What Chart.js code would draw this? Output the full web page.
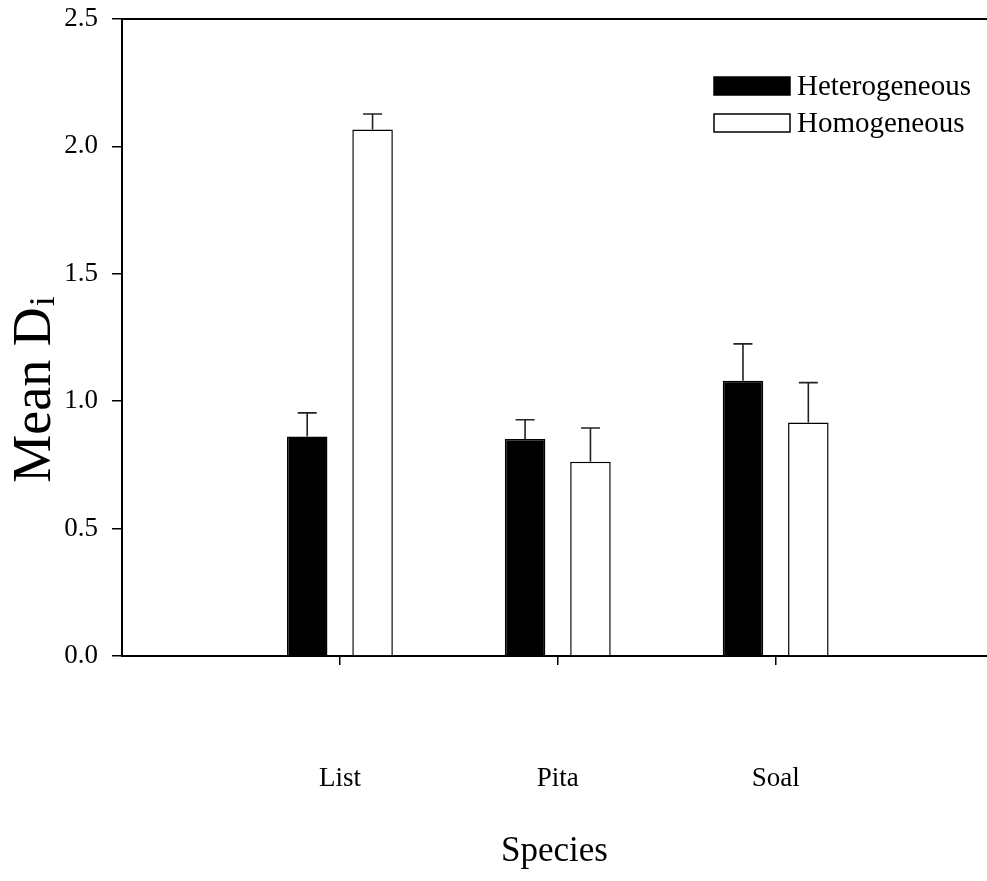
<!DOCTYPE html>
<html>
<head>
<meta charset="utf-8">
<script src="https://cdn.jsdelivr.net/npm/chart.js@4/dist/chart.umd.min.js"></script>
<style>
  html, body { margin: 0; padding: 0; background: #fff; }
  canvas { display: block; }
</style>
</head>
<body>
<canvas id="c" width="987" height="881"></canvas>
<script>
// Species and mean D_i with standard errors for the two habitat types
const species = ['List', 'Pita', 'Soal'];
const seriesNames = ['Heterogeneous', 'Homogeneous'];
const heterogeneous = [0.861, 0.852, 1.080];
const heterogeneousErr = [0.093, 0.075, 0.145];
const homogeneous = [2.066, 0.762, 0.916];
const homogeneousErr = [0.061, 0.133, 0.157];
const yTicks = [0, 0.5, 1.0, 1.5, 2.0, 2.5];

const serif = '"Liberation Serif", "Times New Roman", Times, serif';
const positions = species.map((s, i) => i + 1);

// Error bars: vertical whisker from the bar top to mean + SE, with a cap
const errorBars = {
  id: 'errorBars',
  afterDatasetsDraw(chart) {
    const ctx = chart.ctx;
    const y = chart.scales.y;
    chart.data.datasets.forEach((ds, di) => {
      const meta = chart.getDatasetMeta(di);
      meta.data.forEach((bar, i) => {
        const top = y.getPixelForValue(ds.data[i].y + ds.errors[i]);
        const cap = 9.5;
        ctx.save();
        ctx.strokeStyle = '#222';
        ctx.lineWidth = 1.6;
        ctx.beginPath();
        ctx.moveTo(bar.x, bar.y);
        ctx.lineTo(bar.x, top);
        ctx.moveTo(bar.x - cap, top);
        ctx.lineTo(bar.x + cap, top);
        ctx.stroke();
        ctx.restore();
      });
    });
  }
};

// Top frame line, legend and the y-axis title with its subscript
const decorations = {
  id: 'decorations',
  afterDraw(chart) {
    const ctx = chart.ctx;
    const a = chart.chartArea;
    ctx.save();
    ctx.strokeStyle = '#000';
    ctx.lineWidth = 2;
    ctx.beginPath();
    ctx.moveTo(a.left, a.top);
    ctx.lineTo(a.right, a.top);
    ctx.stroke();

    // legend
    ctx.font = '29px ' + serif;
    ctx.textBaseline = 'middle';
    chart.data.datasets.forEach((ds, i) => {
      const bx = 714, by = 77 + i * 37, bw = 76, bh = 18;
      ctx.fillStyle = ds.backgroundColor;
      ctx.fillRect(bx, by, bw, bh);
      ctx.strokeStyle = '#000';
      ctx.lineWidth = 1.5;
      ctx.strokeRect(bx, by, bw, bh);
      ctx.fillStyle = '#000';
      ctx.fillText(ds.label, 797, by + bh / 2 + 1);
    });

    // y-axis title "Mean D" with subscript "i"
    ctx.translate(50, 390);
    ctx.rotate(-Math.PI / 2);
    const main = 'Mean D';
    const big = 54, small = 36;
    ctx.textBaseline = 'alphabetic';
    ctx.font = big + 'px ' + serif;
    const wMain = ctx.measureText(main).width;
    ctx.font = small + 'px ' + serif;
    const wSub = ctx.measureText('i').width;
    const start = -(wMain + wSub) / 2;
    ctx.font = big + 'px ' + serif;
    ctx.fillText(main, start, 0);
    ctx.font = small + 'px ' + serif;
    ctx.fillText('i', start + wMain + 1, 4);
    ctx.restore();
  }
};

new Chart(document.getElementById('c'), {
  type: 'bar',
  data: {
    datasets: [
      {
        label: seriesNames[0],
        data: positions.map((x, i) => ({ x, y: heterogeneous[i] })),
        errors: heterogeneousErr,
        backgroundColor: '#000',
        borderColor: '#000',
        borderWidth: 1.5,
        categoryPercentage: 0.6,
        barPercentage: 0.62
      },
      {
        label: seriesNames[1],
        data: positions.map((x, i) => ({ x, y: homogeneous[i] })),
        errors: homogeneousErr,
        backgroundColor: '#fff',
        borderColor: '#000',
        borderWidth: 1.5,
        categoryPercentage: 0.6,
        barPercentage: 0.62
      }
    ]
  },
  options: {
    responsive: false,
    animation: false,
    layout: { padding: { top: 19, right: 0, left: 0, bottom: 0 } },
    plugins: { legend: { display: false }, tooltip: { enabled: false } },
    scales: {
      x: {
        type: 'linear',
        offset: false,
        min: 0,
        max: 3.97,
        afterBuildTicks: s => { s.ticks = positions.map(v => ({ value: v })); },
        afterFit: s => { s.height = 225; s.paddingLeft = 0; s.paddingRight = 0; },
        grid: { offset: false, drawOnChartArea: false, drawTicks: true, tickLength: 9, color: '#000', lineWidth: 1.5 },
        border: { color: '#000', width: 2 },
        ticks: {
          callback: v => species[v - 1],
          padding: 98,
          autoSkip: false,
          maxRotation: 0,
          color: '#000',
          font: { family: serif, size: 27 }
        },
        title: {
          display: true,
          text: 'Species',
          color: '#000',
          font: { family: serif, size: 35 },
          padding: { top: 0, bottom: 8 }
        }
      },
      y: {
        min: 0,
        max: 2.5,
        afterBuildTicks: s => { s.ticks = yTicks.map(v => ({ value: v })); },
        afterFit: s => { s.width = 122; s.paddingTop = 0; s.paddingBottom = 0; },
        grid: { drawOnChartArea: false, drawTicks: true, tickLength: 10, color: '#000', lineWidth: 1.5 },
        border: { color: '#000', width: 2 },
        ticks: {
          callback: v => v.toFixed(1),
          padding: 14,
          color: '#000',
          font: { family: serif, size: 27 }
        }
      }
    }
  },
  plugins: [errorBars, decorations]
});
</script>
</body>
</html>
